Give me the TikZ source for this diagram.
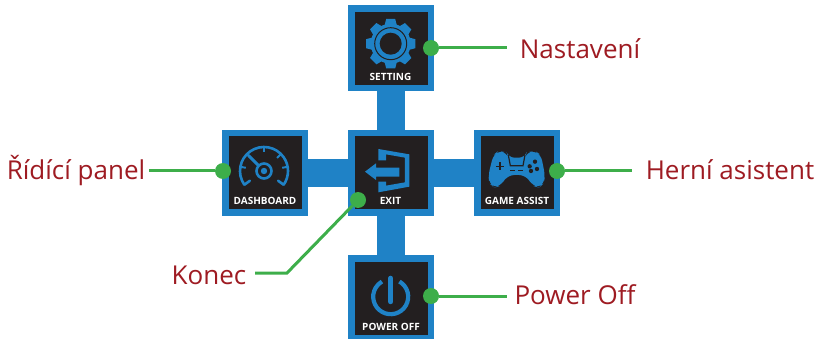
\documentclass[tikz,border=0pt]{standalone}
\usepackage{fontspec}
\setmainfont{Open Sans}
\newfontfamily\tilefont{Open Sans}
\definecolor{tileblue}{HTML}{1F82C6}
\definecolor{tiledark}{HTML}{231F20}
\definecolor{dotgreen}{HTML}{3DAE4A}
\definecolor{labelred}{HTML}{9E1B22}
\tikzset{
  x=1pt,y=-1pt,
  tile/.style={draw=tileblue,line width=6.5pt,fill=tiledark,minimum size=79.5pt,inner sep=0pt,outer sep=3.25pt},
  link/.style={draw=tileblue,line width=28pt},
  dotmark/.style={circle,fill=dotgreen,minimum size=16pt,inner sep=0pt},
  lead/.style={draw=dotgreen,line width=3pt},
  calloutlabel/.style={text=labelred,font=\fontsize{26}{30}\selectfont,inner sep=0pt,anchor=base},
  tilecap/.style={text=white,font=\tilefont\bfseries\fontsize{10}{11}\selectfont,inner sep=0pt,anchor=base},
  icon/.style={draw=tileblue,line width=3pt}
}
\begin{document}
\begin{tikzpicture}
\useasboundingbox (0,0) rectangle (819,339);
% tiles
\node[tile] (set) at (391,48.5) {};
\node[tile] (dash) at (265,173) {};
\node[tile] (exit) at (391,173) {};
\node[tile] (game) at (517,173) {};
\node[tile] (pow) at (391,298) {};
% bars between tiles
\draw[link] (set) -- (exit);
\draw[link] (exit) -- (pow);
\draw[link] (dash) -- (exit);
\draw[link] (exit) -- (game);
% tile captions
\node[tilecap] (capset) at (390.5,80.5) {SETTING};
\node[tilecap] (capdash) at (265,204.5) {DASHBOARD};
\node[tilecap] (capexit) at (390.5,204.5) {EXIT};
\node[tilecap] (capgame) at (517,204.5) {GAME ASSIST};
\node[tilecap] (cappow) at (391,330.5) {POWER OFF};
% gear icon
\begin{scope}[shift={(390.7,43.7)}]
\foreach \a in {0,45,...,315}
  \fill[tileblue,rotate=\a] (-6.5,-17) -- (-4.5,-24.7) -- (4.5,-24.7) -- (6.5,-17) -- cycle;
\fill[tileblue] (0,0) circle (20);
\draw[tiledark,line width=1pt] (0,0) circle (16);
\fill[tiledark] (0,0) circle (11);
\end{scope}
% gauge icon
\begin{scope}[shift={(264,171)}]
\draw[icon,line width=2.6pt] (-215:24) arc[start angle=-215,end angle=35,radius=24];
\draw[icon,line width=2.6pt,line cap=round] (-215:24) -- +(5.5,-4);
\draw[icon,line width=2.6pt,line cap=round] (35:24) -- +(-5.5,-4);
\foreach \a in {-170,-135,-90,-45,-10}
  \draw[icon,line width=2pt] (\a:24) -- (\a:18.5);
\draw[icon,line width=2.6pt] (0,0) circle (7.5);
\fill[tileblue] (0,0) circle (3.2);
\draw[icon,line width=3pt] (-135:7) -- (-135:22);
\end{scope}
% exit icon
\begin{scope}[shift={(340,125)},x=0.3333pt,y=-0.3333pt]
\fill[tileblue] (115,72) -- (208,88) -- (208,185) -- (115,202) -- (115,170) -- (138,170) -- (138,182) -- (195,172) -- (195,98) -- (138,88) -- (138,106) -- (115,106) -- cycle;
\fill[tileblue] (75,140) -- (108,115) -- (108,128) -- (178,128) -- (178,155) -- (108,155) -- (108,165) -- cycle;
\end{scope}
% game icon
\begin{scope}[shift={(465,125)},x=0.3333pt,y=-0.3333pt]
\fill[tileblue,rounded corners=6pt] (85,90) -- (100,78) -- (125,82) -- (130,98) -- (180,98) -- (185,82) -- (210,78) -- (228,90) -- (240,150) -- (237,175) -- (222,188) -- (205,183) -- (180,150) -- (130,150) -- (105,183) -- (88,188) -- (73,175) -- (70,150) -- cycle;
\draw[tiledark,line width=1.2pt] (130,90) -- (136,122) -- (174,122) -- (180,90);
\draw[tiledark,line width=1.2pt] (135,137) -- (150,137) (160,137) -- (175,137);
\draw[tiledark,line width=1.6pt] (93,124) -- (117,124) (105,112) -- (105,136);
\fill[tiledark] (210,110) circle (6.5) (194,124) circle (6.5) (216,132) circle (6.5) (198,138) circle (6.5);
\end{scope}
% power icon
\begin{scope}[shift={(390.7,296.7)}]
\draw[icon,line width=4.2pt,line cap=butt] (-60:17.5) arc[start angle=-60,end angle=240,radius=17.5];
\draw[icon,line width=5pt,line cap=round] (0,-18.5) -- (0,5);
\end{scope}
% callouts
\node[calloutlabel] (lset) at (580,59) {Nastavení};
\node[calloutlabel] (ldash) at (76,180) {Řídící panel};
\node[calloutlabel] (lgame) at (730,180) {Herní asistent};
\node[calloutlabel] (lexit) at (209,284) {Konec};
\node[calloutlabel] (lpow) at (575,304) {Power Off};
% dots
\node[dotmark] (dset) at (431,48) {};
\node[dotmark] (ddash) at (223,171) {};
\node[dotmark] (dexit) at (358,200) {};
\node[dotmark] (dgame) at (557,171) {};
\node[dotmark] (dpow) at (431,296) {};
% free ends
\coordinate (eset) at (507,48);
\coordinate (edash) at (149,171);
\coordinate (egame) at (632,171);
\coordinate (bend) at (287,273);
\coordinate (eexit) at (255,273);
\coordinate (epow) at (507,296);
\draw[lead] (dset) -- (eset);
\draw[lead] (ddash) -- (edash);
\draw[lead] (dgame) -- (egame);
\draw[lead] (dexit) -- (bend) -- (eexit);
\draw[lead] (dpow) -- (epow);
\end{tikzpicture}
\end{document}
